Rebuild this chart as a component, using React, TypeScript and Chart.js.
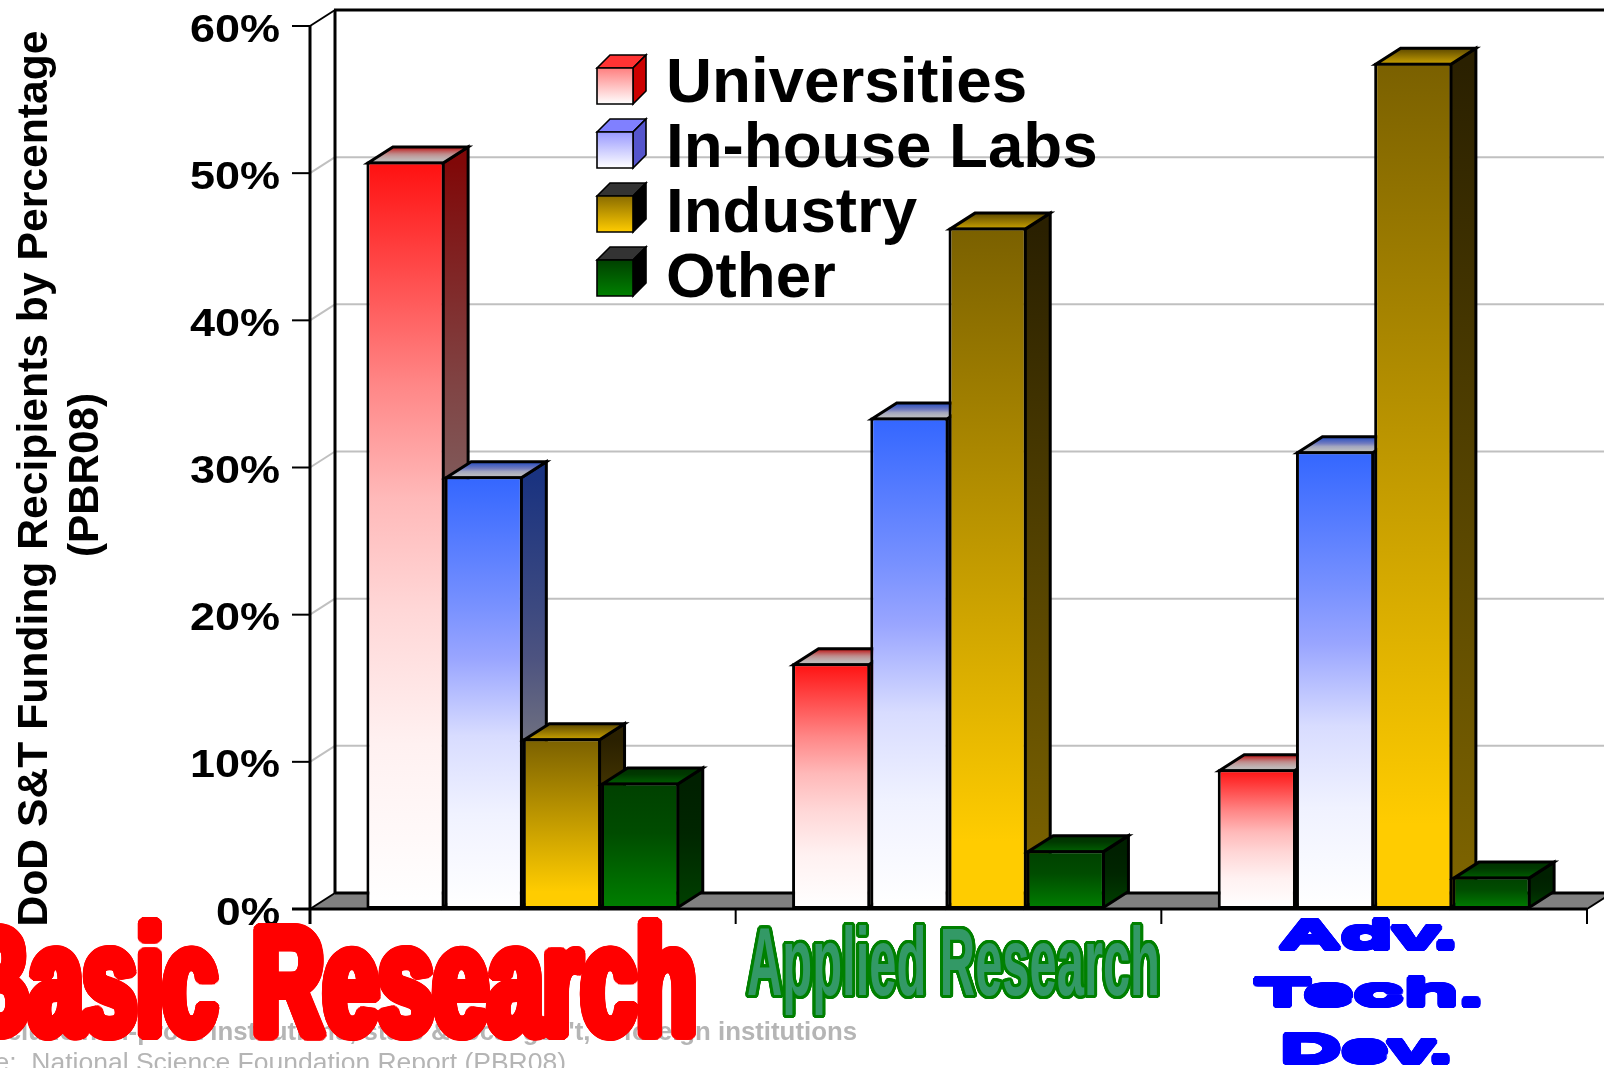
import React, { useEffect, useRef } from "react";
import { Chart, registerables } from "chart.js";

Chart.register(...registerables);

// Data
const categories = ["Basic Research", "Applied Research", "Adv. Tech. Dev."];
const seriesNames = ["Universities", "In-house Labs", "Industry", "Other"];
const universities = [50.8, 16.7, 9.5];
const inHouseLabs = [29.4, 33.4, 31.1];
const industry = [11.6, 46.3, 57.5];
const other = [8.6, 4.0, 2.2];
const yTicks = [0, 10, 20, 30, 40, 50, 60];
const footnoteBold = "Other include non-profit institutions, state & local gov't, & foreign institutions";
const footnoteSource = "Source:  National Science Foundation Report (PBR08)";
const yTitleLines = ["DoD S&T Funding Recipients by Percentage", "(PBR08)"];

type RGB = [number, number, number];
type Stop = [number, RGB];

const halved = (stops: Stop[]): Stop[] => stops.map(([p, c]) => [p, c.map((v) => v * 0.5) as RGB]);

const redRamp: Stop[] = [
  [0, [255, 16, 16]],
  [0.3, [255, 135, 135]],
  [0.45, [255, 185, 185]],
  [0.6, [255, 215, 215]],
  [0.78, [255, 241, 241]],
  [1, [255, 255, 255]],
];
const blueRamp: Stop[] = [
  [0, [51, 102, 255]],
  [0.3, [120, 145, 255]],
  [0.42, [153, 165, 255]],
  [0.6, [216, 220, 255]],
  [0.78, [240, 242, 255]],
  [1, [255, 255, 255]],
];
const goldRamp: Stop[] = [[0, [122, 96, 0]], [0.9, [255, 204, 0]], [1, [255, 204, 0]]];
const greenRamp: Stop[] = [[0, [0, 64, 0]], [0.4, [0, 76, 0]], [1, [0, 128, 0]]];

// Per-series face colours: front, side and legend cube faces.
const styles: { stops: Stop[]; side: Stop[]; legendFront: [string, string]; legendTop: string; legendSide: string }[] = [
  { stops: redRamp, side: halved(redRamp), legendFront: ["#ff8080", "#ffffff"], legendTop: "#ff3333", legendSide: "#cc0000" },
  { stops: blueRamp, side: halved(blueRamp), legendFront: ["#9999ff", "#ffffff"], legendTop: "#8080ff", legendSide: "#5555cc" },
  { stops: goldRamp, side: [[0, [42, 32, 0]], [1, [128, 102, 0]]], legendFront: ["#8a6c00", "#ffcc00"], legendTop: "#333333", legendSide: "#000000" },
  { stops: greenRamp, side: halved(greenRamp), legendFront: ["#004000", "#008000"], legendTop: "#333333", legendSide: "#000000" },
];

const DEPTH_X = 25;
const DEPTH_Y = 16;
const BAR_EDGE = 3;
const SANS = '"Liberation Sans", Arial, sans-serif';

function ramp(ctx: CanvasRenderingContext2D, y0: number, y1: number, stops: Stop[], f = 1) {
  const g = ctx.createLinearGradient(0, y0, 0, y1);
  for (const [p, c] of stops) {
    g.addColorStop(p, `rgb(${Math.round(c[0] * f)},${Math.round(c[1] * f)},${Math.round(c[2] * f)})`);
  }
  return g;
}

function poly(ctx: CanvasRenderingContext2D, pts: number[][], fill: any, stroke?: string, lw = BAR_EDGE) {
  ctx.beginPath();
  pts.forEach(([x, y], i) => (i ? ctx.lineTo(x, y) : ctx.moveTo(x, y)));
  ctx.closePath();
  if (fill) {
    ctx.fillStyle = fill;
    ctx.fill();
  }
  if (stroke) {
    ctx.strokeStyle = stroke;
    ctx.lineWidth = lw;
    ctx.lineJoin = "miter";
    ctx.stroke();
  }
}

function seg(ctx: CanvasRenderingContext2D, x0: number, y0: number, x1: number, y1: number, color: string, lw: number) {
  ctx.beginPath();
  ctx.moveTo(x0, y0);
  ctx.lineTo(x1, y1);
  ctx.strokeStyle = color;
  ctx.lineWidth = lw;
  ctx.stroke();
}

// Stretched display lettering: fits the ink of a line into a box, with an even outline grown around it.
function wordArt(
  ctx: CanvasRenderingContext2D,
  text: string,
  font: string,
  box: { left: number; right: number; top: number; base: number },
  fill: string,
  outline: string,
  grow: number
) {
  ctx.save();
  ctx.font = font;
  ctx.textAlign = "left";
  ctx.textBaseline = "alphabetic";
  const m = ctx.measureText(text);
  const inkW = m.actualBoundingBoxLeft + m.actualBoundingBoxRight;
  const sx = (box.right - box.left - 2 * grow) / inkW;
  const sy = (box.base - box.top - 2 * grow) / m.actualBoundingBoxAscent;
  const ox = box.left + grow + m.actualBoundingBoxLeft * sx;
  const oy = box.base - grow;
  const put = (dx: number, dy: number, color: string) => {
    ctx.save();
    ctx.translate(ox + dx, oy + dy);
    ctx.scale(sx, sy);
    ctx.fillStyle = color;
    ctx.fillText(text, 0, 0);
    ctx.restore();
  };
  if (grow > 0) {
    for (let a = 0; a < 24; a++) {
      const t = (a / 24) * Math.PI * 2;
      put(Math.cos(t) * grow, Math.sin(t) * grow, outline);
    }
  }
  put(0, 0, fill);
  ctx.restore();
}

function stretchedText(ctx: CanvasRenderingContext2D, text: string, font: string, x: number, y: number, width: number, align: "left" | "right" | "center") {
  ctx.save();
  ctx.font = font;
  ctx.textBaseline = "alphabetic";
  ctx.textAlign = "left";
  const w = ctx.measureText(text).width;
  const sx = width / w;
  const start = align === "left" ? x : align === "right" ? x - width : x - width / 2;
  ctx.translate(start, y);
  ctx.scale(sx, 1);
  ctx.fillStyle = "#000";
  ctx.fillText(text, 0, 0);
  ctx.restore();
}

const chart3d = {
  id: "chart3d",
  // Walls and floor first, then the bars, series by series from left to right within each group.
  beforeDatasetsDraw(chart: any) {
    const { ctx, chartArea: a, scales } = chart;
    const y = scales.y;
    ctx.save();
    for (const t of yTicks) {
      const py = y.getPixelForValue(t);
      if (t > 0 && t < 60) {
        seg(ctx, a.left, py, a.left + DEPTH_X, py - DEPTH_Y, "#c0c0c0", 2);
        seg(ctx, a.left + DEPTH_X, py - DEPTH_Y, chart.width, py - DEPTH_Y, "#c0c0c0", 2);
      }
    }
    const bx = a.left + DEPTH_X;
    poly(ctx, [[a.left, a.bottom], [bx, a.bottom - DEPTH_Y], [a.right + DEPTH_X, a.bottom - DEPTH_Y], [a.right, a.bottom]], "#808080");
    seg(ctx, bx, a.bottom - DEPTH_Y, chart.width, a.bottom - DEPTH_Y, "#000", 3);
    seg(ctx, a.right, a.bottom, a.right + DEPTH_X, a.bottom - DEPTH_Y, "#000", 2);
    seg(ctx, bx, a.top - DEPTH_Y, bx, a.bottom - DEPTH_Y, "#000", 3);
    seg(ctx, bx - 1, a.top - DEPTH_Y, chart.width, a.top - DEPTH_Y, "#000", 3);
    seg(ctx, a.left, a.top, bx, a.top - DEPTH_Y, "#000", 2);
    seg(ctx, a.left, a.bottom, bx, a.bottom - DEPTH_Y, "#000", 2);

    // Each bar's right and top faces go down just before its own front face.
    // The face outlines follow the centre of the front face's inner border.
    seriesNames.forEach((_, i) => {
      const s = styles[i];
      const inset = BAR_EDGE / 2;
      for (const el of chart.getDatasetMeta(i).data) {
        const { x, y: top, base, width } = el.getProps(["x", "y", "base", "width"], true);
        const l = x - width / 2 + inset;
        const r = x + width / 2 - inset;
        const t = top + inset;
        const b = base - inset;
        poly(ctx, [[r, t], [r + DEPTH_X, t - DEPTH_Y], [r + DEPTH_X, b - DEPTH_Y], [r, b]], ramp(ctx, t, b, s.side), "#000");
        poly(ctx, [[l, t], [l + DEPTH_X, t - DEPTH_Y], [r + DEPTH_X, t - DEPTH_Y], [r, t]], ramp(ctx, t - DEPTH_Y, t, s.stops, 0.75), "#000");
        el.draw(ctx);
      }
    });
    ctx.restore();
  },
  // The bars are already painted above, in their stacking order.
  beforeDatasetDraw() {
    return false;
  },
  afterDatasetsDraw(chart: any) {
    const { ctx, chartArea: a, scales } = chart;
    const y = scales.y;
    ctx.save();
    ctx.lineCap = "butt";

    // Value axis and its labels
    seg(ctx, a.left, a.top - 1, a.left, a.bottom + 15, "#000", 3);
    seg(ctx, 292, a.bottom, a.right, a.bottom, "#000", 3);
    for (const t of yTicks) {
      const py = y.getPixelForValue(t);
      seg(ctx, 292, py, a.left, py, "#000", 2);
      stretchedText(ctx, `${t}%`, `bold 39px ${SANS}`, 280, py + 15.5, t === 0 ? 64 : 90, "right");
    }

    // Category separators
    const step = (a.right - a.left) / categories.length;
    for (let i = 0; i <= categories.length; i++) {
      const px = a.left + step * i;
      seg(ctx, px, a.bottom, px, a.bottom + 15, "#000", 2);
    }

    // Axis title, running up the left edge
    ctx.save();
    ctx.translate(47, 478.5);
    ctx.rotate(-Math.PI / 2);
    stretchedText(ctx, yTitleLines[0], `bold 42px ${SANS}`, 0, 0, 896, "center");
    ctx.restore();
    ctx.save();
    ctx.translate(98, 475);
    ctx.rotate(-Math.PI / 2);
    stretchedText(ctx, yTitleLines[1], `bold 42px ${SANS}`, 0, 0, 164, "center");
    ctx.restore();

    // Legend as small cubes
    seriesNames.forEach((name, i) => {
      const x0 = 597;
      const y0 = 68 + i * 64;
      const w = 36;
      const d = 13;
      const st = styles[i];
      poly(ctx, [[x0, y0], [x0 + d, y0 - d], [x0 + w + d, y0 - d], [x0 + w, y0]], st.legendTop, "#000", 1.6);
      poly(ctx, [[x0 + w, y0], [x0 + w + d, y0 - d], [x0 + w + d, y0 + w - d], [x0 + w, y0 + w]], st.legendSide, "#000", 1.6);
      const g = ctx.createLinearGradient(0, y0, 0, y0 + w);
      g.addColorStop(0, st.legendFront[0]);
      g.addColorStop(1, st.legendFront[1]);
      poly(ctx, [[x0, y0], [x0 + w, y0], [x0 + w, y0 + w], [x0, y0 + w]], g, "#000", 1.6);
      ctx.font = `bold 63.7px ${SANS}`;
      ctx.textAlign = "left";
      ctx.textBaseline = "alphabetic";
      ctx.fillStyle = "#000";
      ctx.fillText(name, 666, 101.5 + i * 65);
    });

    // Footnotes sit under the category lettering
    ctx.fillStyle = "#b5b5b5";
    ctx.textAlign = "right";
    ctx.font = `bold 25.8px ${SANS}`;
    ctx.fillText(footnoteBold, 857, 1040);
    ctx.font = `26.5px ${SANS}`;
    ctx.fillText(footnoteSource, 566, 1071);

    // Category lettering
    const bold = (px: number) => `bold ${px}px ${SANS}`;
    const [basic, research] = categories[0].split(" ");
    wordArt(ctx, basic, bold(160), { left: -40, right: 220, top: 917, base: 1040 }, "#ff0000", "#ff0000", 5.5);
    wordArt(ctx, research, bold(160), { left: 253, right: 696, top: 917, base: 1040 }, "#ff0000", "#ff0000", 5.5);
    wordArt(ctx, categories[1], bold(100), { left: 745, right: 1160, top: 921, base: 998 }, "#339966", "#008000", 3);
    const [adv, tech, dev] = categories[2].split(" ");
    wordArt(ctx, adv, bold(44), { left: 1278, right: 1456, top: 917, base: 951 }, "#0000ff", "#0000ff", 3);
    wordArt(ctx, tech, bold(44), { left: 1252, right: 1482, top: 975, base: 1008 }, "#0000ff", "#0000ff", 3);
    wordArt(ctx, dev, bold(44), { left: 1281, right: 1451, top: 1032, base: 1065 }, "#0000ff", "#0000ff", 3);

    ctx.restore();
  },
};

export default function App() {
  const ref = useRef<HTMLCanvasElement>(null);

  useEffect(() => {
    const values = [universities, inHouseLabs, industry, other];
    const chart = new Chart(ref.current as HTMLCanvasElement, {
      type: "bar",
      data: {
        labels: categories,
        datasets: seriesNames.map((label, i) => ({
          label,
          data: values[i],
          borderColor: "#000000",
          borderWidth: BAR_EDGE,
          borderSkipped: false,
          inflateAmount: 0,
          categoryPercentage: 0.735,
          barPercentage: 1,
          backgroundColor: (c: any) => {
            if (c.type !== "data" || !c.parsed) return "#ffffff";
            const ys = c.chart.scales.y;
            const top = ys.getPixelForValue(c.parsed.y);
            const base = ys.getPixelForValue(0);
            // The scale has no pixels yet on the first option pass.
            if (!Number.isFinite(top) || !Number.isFinite(base)) return "#ffffff";
            return ramp(c.chart.ctx, top, base, styles[i].stops);
          },
        })),
      },
      options: {
        responsive: false,
        animation: false,
        devicePixelRatio: 1,
        layout: { padding: { left: 310, right: 17, top: 26, bottom: 159 } },
        plugins: { legend: { display: false }, tooltip: { enabled: false }, title: { display: false } },
        scales: {
          x: { display: false, grid: { display: false } },
          y: { display: false, min: 0, max: 60, grid: { display: false } },
        },
      } as any,
      plugins: [chart3d as any],
    });
    return () => chart.destroy();
  }, []);

  return <canvas ref={ref} width={1604} height={1068} style={{ position: "fixed", left: 0, top: 0, display: "block" }} />;
}
